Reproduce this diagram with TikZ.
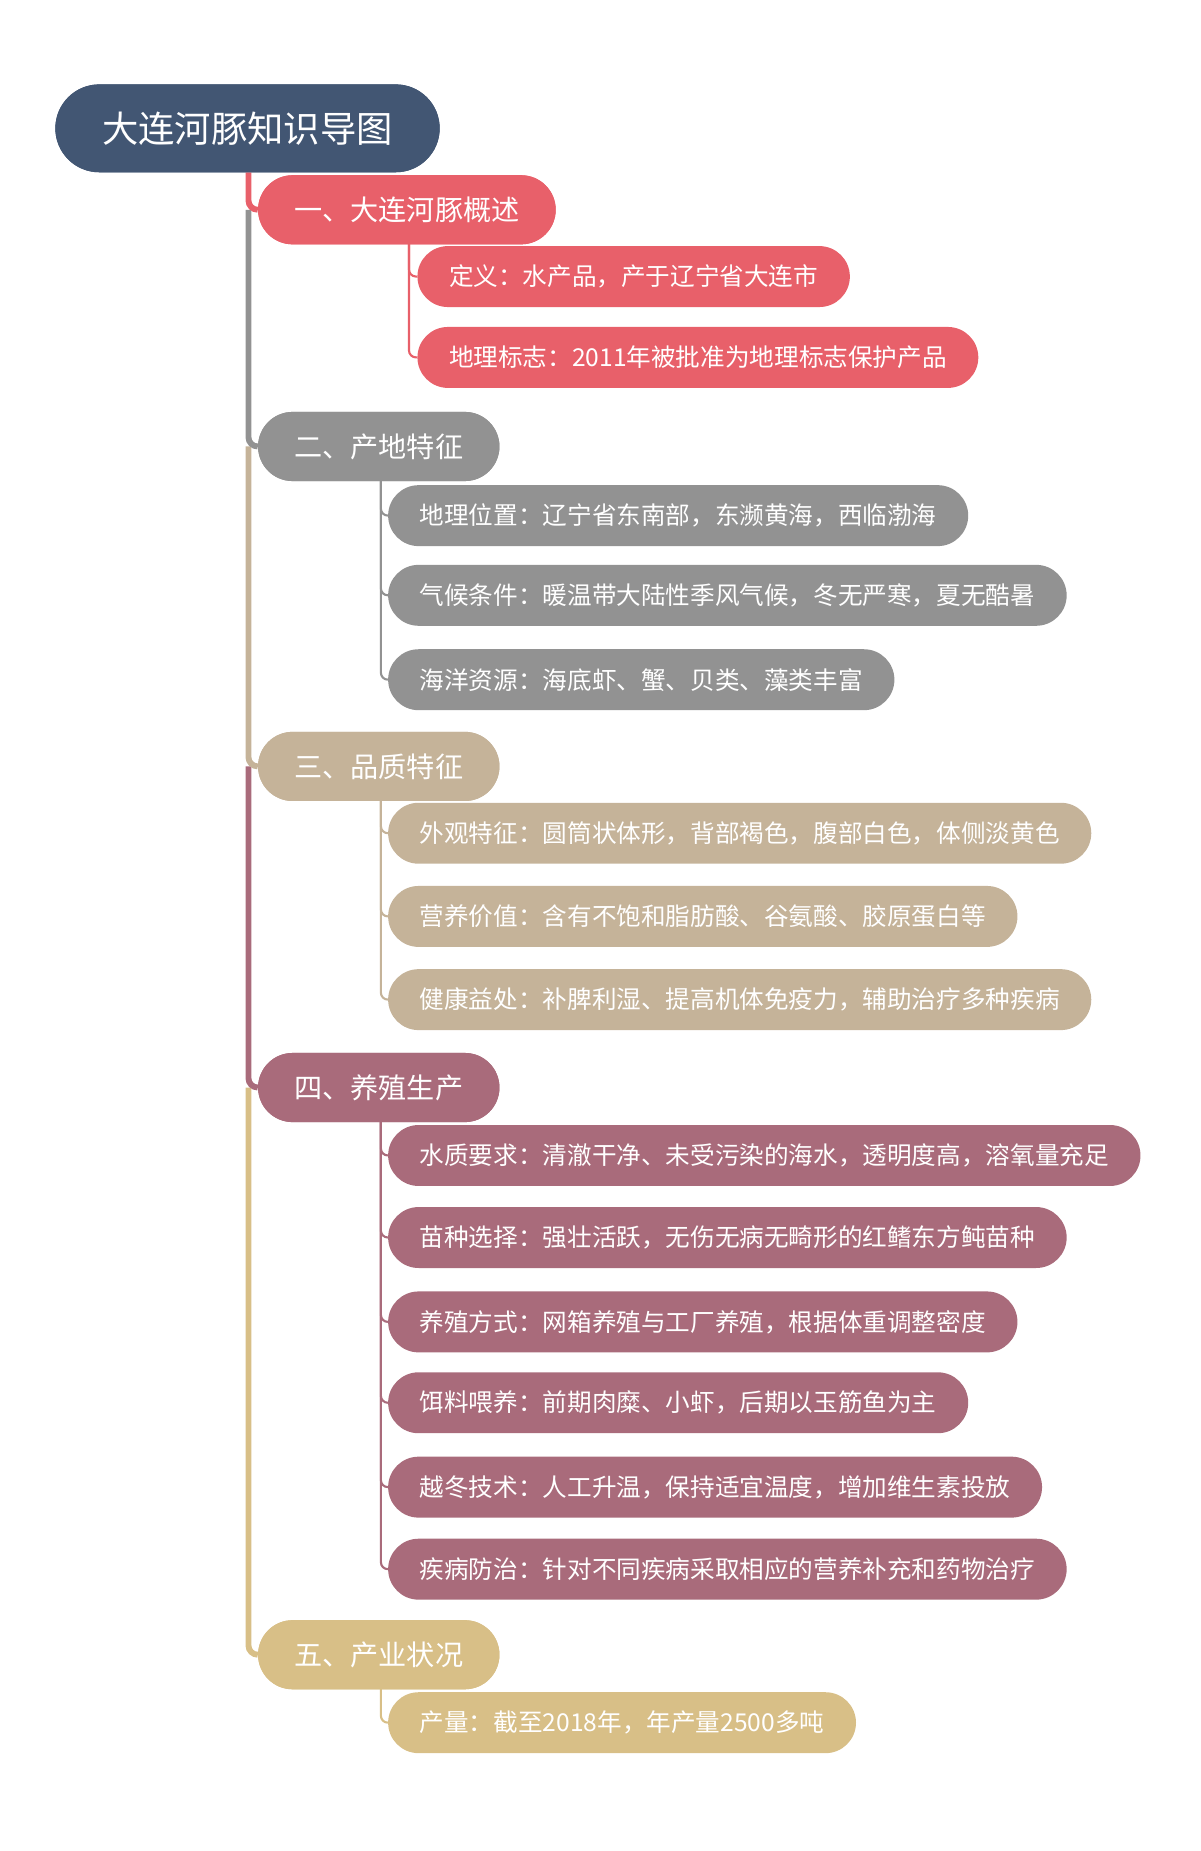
\documentclass[tikz,border=0pt]{standalone}
\usepackage{fontspec}
\setmainfont{Noto Sans CJK SC}
\definecolor{cRoot}{HTML}{425673}
\definecolor{cRed}{HTML}{E8606A}
\definecolor{cGray}{HTML}{929292}
\definecolor{cTan}{HTML}{C5B399}
\definecolor{cMauve}{HTML}{A96B7B}
\definecolor{cGold}{HTML}{D8BF87}
\begin{document}
\begin{tikzpicture}[x=1pt,y=-1pt,
  rootbox/.style={fill=cRoot, rounded corners=37.5pt, minimum height=75pt, inner xsep=40pt, inner ysep=0pt, text=white, font=\fontsize{31}{31}\selectfont, anchor=west},
  lonebox/.style={fill=#1, rounded corners=29.5pt, minimum height=59pt, inner xsep=31pt, inner ysep=0pt, text=white, font=\fontsize{24}{24}\selectfont, anchor=west},
  ltwobox/.style={fill=#1, rounded corners=26pt, minimum height=52pt, inner xsep=27pt, inner ysep=0pt, text=white, font=\fontsize{21}{21}\selectfont, anchor=west},
  trunk/.style={draw=#1, line width=5pt, rounded corners=8pt},
  twig/.style={draw=#1, line width=1.8pt, rounded corners=6pt}
]
\useasboundingbox (0,0) rectangle (1024,1579.5);

\node[rootbox] (root) at (47,109.5) {大连河豚知识导图};

\node[lonebox=cRed]   (a) at (220,179)  {一、大连河豚概述};
\node[lonebox=cGray]  (b) at (220,381)  {二、产地特征};
\node[lonebox=cTan]   (c) at (220,654)  {三、品质特征};
\node[lonebox=cMauve] (d) at (220,928)  {四、养殖生产};
\node[lonebox=cGold]  (e) at (220,1412) {五、产业状况};

\node[ltwobox=cRed] (a1) at (356,236) {定义：水产品，产于辽宁省大连市};
\node[ltwobox=cRed] (a2) at (356,305) {地理标志：2011年被批准为地理标志保护产品};

\node[ltwobox=cGray] (b1) at (331,440) {地理位置：辽宁省东南部，东濒黄海，西临渤海};
\node[ltwobox=cGray] (b2) at (331,508) {气候条件：暖温带大陆性季风气候，冬无严寒，夏无酷暑};
\node[ltwobox=cGray] (b3) at (331,580) {海洋资源：海底虾、蟹、贝类、藻类丰富};

\node[ltwobox=cTan] (c1) at (331,711) {外观特征：圆筒状体形，背部褐色，腹部白色，体侧淡黄色};
\node[ltwobox=cTan] (c2) at (331,782) {营养价值：含有不饱和脂肪酸、谷氨酸、胶原蛋白等};
\node[ltwobox=cTan] (c3) at (331,853) {健康益处：补脾利湿、提高机体免疫力，辅助治疗多种疾病};

\node[ltwobox=cMauve] (d1) at (331,986)  {水质要求：清澈干净、未受污染的海水，透明度高，溶氧量充足};
\node[ltwobox=cMauve] (d2) at (331,1056) {苗种选择：强壮活跃，无伤无病无畸形的红鳍东方鲀苗种};
\node[ltwobox=cMauve] (d3) at (331,1128) {养殖方式：网箱养殖与工厂养殖，根据体重调整密度};
\node[ltwobox=cMauve] (d4) at (331,1197) {饵料喂养：前期肉糜、小虾，后期以玉筋鱼为主};
\node[ltwobox=cMauve] (d5) at (331,1269) {越冬技术：人工升温，保持适宜温度，增加维生素投放};
\node[ltwobox=cMauve] (d6) at (331,1339) {疾病防治：针对不同疾病采取相应的营养补充和药物治疗};

\node[ltwobox=cGold] (e1) at (331,1470) {产量：截至2018年，年产量2500多吨};

% trunk segments
\coordinate (t0) at (212,147);
\coordinate (t1) at (212,179);
\coordinate (t2) at (212,381);
\coordinate (t3) at (212,654);
\coordinate (t4) at (212,928);
\begin{scope}[on background layer/.style={}]
\draw[trunk=cGold]  (t4) |- (e.west);
\draw[trunk=cMauve] (t3) |- (d.west);
\draw[trunk=cTan]   (t2) |- (c.west);
\draw[trunk=cGray]  (t1) |- (b.west);
\draw[trunk=cRed]   (t0) |- (a.west);
\end{scope}

% twigs
\coordinate (ap) at (349,208);
\coordinate (bp) at (325,410);
\coordinate (cp) at (325,683);
\coordinate (dp) at (325,957);
\coordinate (ep) at (325,1441);
\foreach \k in {a1,a2} \draw[twig=cRed] (ap) |- (\k.west);
\foreach \k in {b1,b2,b3} \draw[twig=cGray] (bp) |- (\k.west);
\foreach \k in {c1,c2,c3} \draw[twig=cTan] (cp) |- (\k.west);
\foreach \k in {d1,d2,d3,d4,d5,d6} \draw[twig=cMauve] (dp) |- (\k.west);
\draw[twig=cGold] (ep) |- (e1.west);

% redraw nodes on top
\node[rootbox] at (47,109.5) {大连河豚知识导图};
\node[lonebox=cRed]   at (220,179)  {一、大连河豚概述};
\node[lonebox=cGray]  at (220,381)  {二、产地特征};
\node[lonebox=cTan]   at (220,654)  {三、品质特征};
\node[lonebox=cMauve] at (220,928)  {四、养殖生产};
\node[lonebox=cGold]  at (220,1412) {五、产业状况};
\end{tikzpicture}
\end{document}
